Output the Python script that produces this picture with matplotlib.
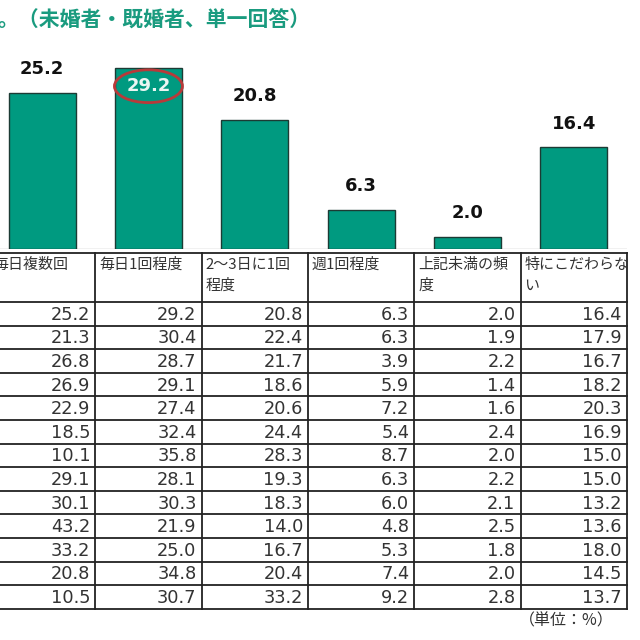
import matplotlib
matplotlib.use("Agg")
import matplotlib.pyplot as plt
from matplotlib.patches import Ellipse

plt.rcParams["font.family"] = ["DejaVu Sans", "Noto Sans CJK JP"]

# ==========================
# データ
# ==========================

categories = ["毎日複数回", "毎日1回程度", "2～3日に1回\n程度", "週1回程度",
              "上記未満の頻\n度", "特にこだわらな\nい"]

col_daily_multi = [25.2, 21.3, 26.8, 26.9, 22.9, 18.5, 10.1, 29.1, 30.1, 43.2, 33.2, 20.8, 10.5]
col_daily_once = [29.2, 30.4, 28.7, 29.1, 27.4, 32.4, 35.8, 28.1, 30.3, 21.9, 25.0, 34.8, 30.7]
col_2_3_days = [20.8, 22.4, 21.7, 18.6, 20.6, 24.4, 28.3, 19.3, 18.3, 14.0, 16.7, 20.4, 33.2]
col_weekly = [6.3, 6.3, 3.9, 5.9, 7.2, 5.4, 8.7, 6.3, 6.0, 4.8, 5.3, 7.4, 9.2]
col_less = [2.0, 1.9, 2.2, 1.4, 1.6, 2.4, 2.0, 2.2, 2.1, 2.5, 1.8, 2.0, 2.8]
col_no_pref = [16.4, 17.9, 16.7, 18.2, 20.3, 16.9, 15.0, 15.0, 13.2, 13.6, 18.0, 14.5, 13.7]

columns = [col_daily_multi, col_daily_once, col_2_3_days, col_weekly, col_less, col_no_pref]
bar_values = [c[0] for c in columns]   # 全体
highlight = 1

title = "。（未婚者・既婚者、単一回答）"
unit = "（単位：%）"

TEAL = "#009a80"
TITLE_COLOR = "#1a9b7f"
TEXT = "#333333"
LINE = "#222222"
JP = ["Noto Sans CJK JP", "DejaVu Sans"]

# ==========================
# レイアウト (pixel)
# ==========================

W = H = 640
col_left = -11
col_w = 106.3
base_y = 249
table_top = 253
header_h = 49
row_h = 23.6

fig = plt.figure(figsize=(6.4, 6.4), dpi=100)

# ==========================
# 棒グラフ
# ==========================

px_per_unit = 6.19
bax = fig.add_axes([col_left / W, 1 - base_y / H, col_w * 6 / W, base_y / H])
bax.set_xlim(-0.5, 5.5)
bax.set_ylim(0, base_y / px_per_unit)
bax.axis("off")

x = range(len(bar_values))
bax.bar(x, bar_values, width=0.63, color=TEAL, edgecolor="#1c3b34", linewidth=1, zorder=2)
bax.axhline(0, color="#bbbbbb", linewidth=1, zorder=1)

for i, v in enumerate(bar_values):
    if i == highlight:
        bax.text(i, v - 2.9, f"{v:.1f}", ha="center", va="center",
                 fontsize=13, fontweight="bold", color="#eaf6f2", zorder=4)
        bax.add_patch(Ellipse((i, v - 2.9), 0.64, 5.3, fill=False,
                              edgecolor="#b83a3a", linewidth=2, zorder=5,
                              clip_on=False))
    else:
        bax.text(i, v + 2.4, f"{v:.1f}", ha="center", va="bottom",
                 fontsize=13, fontweight="bold", color="#111111", zorder=4)

# ==========================
# 表
# ==========================

ax = fig.add_axes([0, 0, 1, 1])
ax.set_xlim(0, W)
ax.set_ylim(H, 0)
ax.axis("off")

n_rows = len(columns[0])
right_edge = col_left + col_w * 6
y_lines = [table_top, table_top + header_h] + \
    [table_top + header_h + row_h * (r + 1) for r in range(n_rows)]
for y in y_lines:
    ax.plot([0, right_edge], [y, y], color=LINE, linewidth=1.3)
for c in range(1, 7):
    xx = col_left + col_w * c
    ax.plot([xx, xx], [table_top, y_lines[-1]], color=LINE, linewidth=1.3)

for c, name in enumerate(categories):
    ax.text(col_left + col_w * c + 4, table_top + 5, name, ha="left", va="top",
            fontsize=10.8, color=TEXT, family=JP, linespacing=1.6)
    for r, v in enumerate(columns[c]):
        yc = table_top + header_h + row_h * (r + 0.5)
        ax.text(col_left + col_w * (c + 1) - 5, yc + 1, f"{v:.1f}", ha="right",
                va="center", fontsize=12.8, color=TEXT)

ax.text(right_edge - 13, 621, unit, ha="right", va="center", fontsize=11.5,
        color=TEXT, family=JP)

ax.text(-3, 20, title, ha="left", va="center", fontsize=15, fontweight="bold",
        color=TITLE_COLOR, family=JP)

fig.savefig("out.png", dpi=100, facecolor="white")
